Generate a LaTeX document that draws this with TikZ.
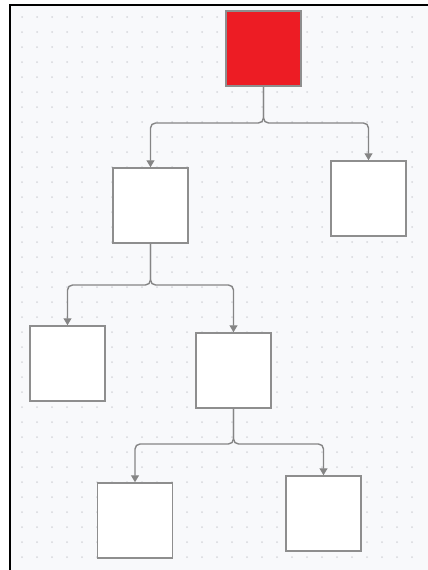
\documentclass[tikz,border=0pt]{standalone}
\usetikzlibrary{arrows.meta}
\definecolor{canvas}{HTML}{F8F9FB}
\definecolor{griddot}{HTML}{D6D8DC}
\definecolor{boxline}{HTML}{8E8E8E}
\definecolor{wire}{HTML}{858585}
\definecolor{rootred}{HTML}{ED1C24}
\tikzset{
  orgbox/.style={draw=boxline, line width=1.5pt, fill=white, minimum size=75pt, inner sep=0pt},
  rootbox/.style={orgbox, fill=rootred},
  link/.style={draw=wire, line width=1.4pt, rounded corners=5pt, -{Triangle[width=8pt,length=7pt]}}
}

\begin{document}
\begin{tikzpicture}[x=1pt, y=-1pt]
            \useasboundingbox (0,0) rectangle (428,570);
            \fill[white] (0,0) rectangle (428,570);
            \fill[canvas] (10,5) rectangle (428,570);
            % Raster
            \foreach \gx in {22,37,...,412} \foreach \gy in {17,32,...,562} \fill[griddot] (\gx,\gy) circle (1pt);
            \draw[black, line width=2pt] (9.5,570) -- (9.5,4.5) -- (428,4.5);
            % Knoten
            \node[rootbox] (root) at (263.5,48.5) {};
            \node[orgbox] (b1) at (150.5,205.5) {};
            \node[orgbox] (b2) at (368.5,198.5) {};
            \node[orgbox] (c1) at (67.5,363.5) {};
            \node[orgbox] (c2) at (233.5,370.5) {};
            \node[orgbox] (d1) at (135,520.5) {};
            \node[orgbox] (d2) at (323.5,513.5) {};
            \coordinate (ja) at (263.5,123); \coordinate (jb) at (150.5,285); \coordinate (jc) at (233.5,444);
            % Verbindungen
            \draw[link] (root.south) -- (ja) -| (b1.north);
            \draw[link] (root.south) -- (ja) -| (b2.north);
            \draw[link] (b1.south) -- (jb) -| (c1.north);
            \draw[link] (b1.south) -- (jb) -| (c2.north);
            \draw[link] (c2.south) -- (jc) -| (d1.north);
            \draw[link] (c2.south) -- (jc) -| (d2.north);
        \end{tikzpicture}
\end{document}
